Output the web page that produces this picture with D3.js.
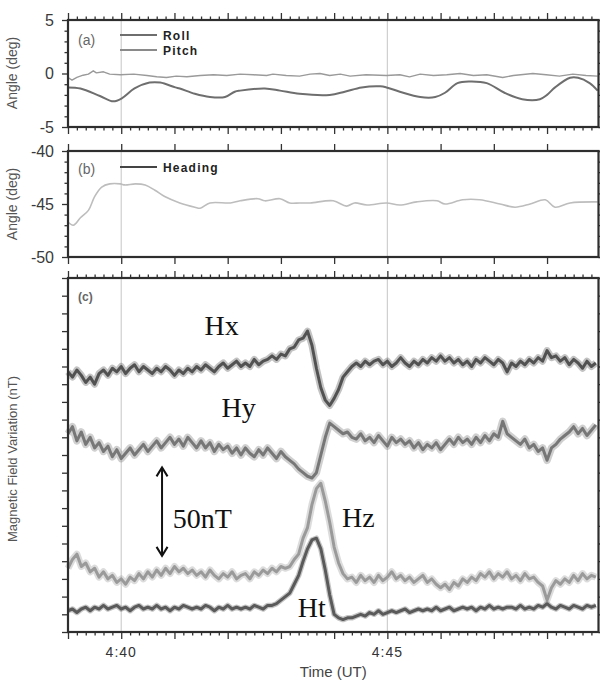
<!DOCTYPE html>
<html>
    <head>
        <meta charset="utf-8">
        <title>Attitude and magnetic field variation</title>
        <script type="text/javascript" src="https://cdnjs.cloudflare.com/ajax/libs/d3/7.8.5/d3.min.js"></script>
        <style>
            body { margin: 0; background: #ffffff; }
            svg { display: block; }
        </style>
    </head>
    <body>
        <script type="text/javascript">

            // ---- Data (times in seconds after 4:39:00 UT) ----

            // Panel (a): roll and pitch in degrees
            var rollTimes = [0, 14, 36, 51, 61, 75, 92, 104, 121, 126, 143, 160, 177, 188, 194, 222, 239, 261, 295, 312,
                             331, 352, 359, 374, 397, 414, 425, 439, 453, 472, 492, 512, 532, 540, 549, 566, 575, 588, 597];
            var rollValues = [-1.3, -1.4, -2.1, -2.6, -2.3, -1.4, -0.85, -0.85, -1.3, -1.4, -1.9, -2.2, -2.2, -1.7, -1.6, -1.4, -1.6, -1.9, -2.0, -1.7,
                              -1.3, -1.2, -1.3, -1.7, -2.2, -2.2, -1.8, -0.9, -0.75, -0.9, -1.8, -2.4, -2.4, -2.0, -1.3, -0.4, -0.4, -0.9, -1.6];

            var pitchTimes = [0, 4.5, 10, 17, 23, 28.5, 32, 40, 47, 59, 74, 89, 100, 111, 122, 134, 149, 164, 179, 194,
                              209, 224, 231, 246, 261, 273, 284, 295, 307, 318, 336, 359, 374, 385, 397, 412, 427, 442, 457, 472,
                              490, 502, 524, 539, 554, 569, 584, 597];
            var pitchValues = [-0.37, -0.62, -0.37, -0.16, -0.06, 0.25, 0.06, 0.16, -0.06, -0.12,
                               -0.06, -0.19, -0.31, -0.37, -0.25, -0.31, -0.19, -0.12, -0.19, -0.06,
                               -0.12, -0.19, -0.06, -0.19, -0.25, -0.06, 0, -0.19, -0.06, -0.25,
                               -0.12, -0.19, -0.12, -0.31, -0.06, -0.19, -0.12, 0, -0.19, -0.12,
                               -0.37, -0.19, 0, -0.12, -0.25, -0.06, -0.19, -0.25];

            // Panel (b): heading in degrees
            var headingTimes = [0, 6, 14, 23, 30, 38, 47, 59, 64, 76, 87, 98, 109, 126, 143, 149, 160, 183, 194, 214,
                                222, 239, 250, 261, 273, 299, 314, 323, 337, 359, 374, 393, 416, 425, 445, 464, 487, 504, 521, 538,
                                549, 566, 597];
            var headingValues = [-46.7, -47.0, -46.3, -45.6, -44.3, -43.4, -43.1, -43.1, -43.2, -43.1, -43.2, -43.7, -44.3, -44.9, -45.3, -45.4, -44.9, -44.9, -44.7, -44.5,
                                 -44.7, -44.5, -44.9, -44.9, -44.9, -44.7, -45.2, -44.9, -45.1, -44.9, -45.1, -44.8, -44.7, -45.0, -44.6, -44.6, -45.0, -45.3, -45.0, -44.6,
                                 -45.3, -44.9, -44.8];

            // Panel (c): magnetic field components (nT, offset), one sample every 5 s
            var magStep = 5;
            var hxValues = [147, 144, 148, 145, 141, 144, 140, 146, 148, 145,
                            149, 147, 150, 146, 149, 151, 147, 150, 148, 146,
                            149, 147, 150, 148, 145, 148, 146, 149, 147, 150,
                            148, 151, 149, 147, 150, 152, 149, 151, 153, 150,
                            152, 150, 154, 151, 153, 154, 156, 154, 157, 156,
                            160, 161, 165, 166, 170, 162, 149, 138, 131, 128,
                            132, 137, 144, 147, 150, 152, 150, 153, 151, 153,
                            154, 151, 153, 150, 152, 155, 152, 150, 153, 151,
                            154, 152, 155, 153, 156, 153, 155, 152, 154, 151,
                            153, 150, 154, 152, 155, 153, 151, 154, 152, 147,
                            152, 150, 153, 151, 154, 152, 155, 153, 159, 155,
                            156, 153, 155, 151, 154, 152, 149, 153, 150, 152];
            var hyValues = [112, 116, 108, 113, 106, 110, 104, 107, 102, 105,
                            99, 103, 98, 101, 104, 100, 103, 106, 102, 105,
                            108, 104, 107, 110, 106, 109, 105, 110, 107, 104,
                            108, 104, 107, 102, 106, 103, 105, 101, 104, 100,
                            104, 101, 99, 103, 100, 104, 101, 98, 102, 99,
                            97, 95, 92, 90, 88, 87, 90, 100, 110, 118,
                            116, 114, 112, 113, 110, 109, 112, 108, 110, 107,
                            111, 108, 105, 110, 107, 109, 106, 108, 104, 107,
                            103, 106, 104, 107, 103, 106, 109, 106, 110, 107,
                            109, 106, 110, 107, 111, 108, 112, 110, 119, 112,
                            110, 108, 106, 109, 104, 106, 102, 104, 97, 104,
                            106, 109, 111, 113, 116, 112, 115, 111, 114, 117];
            var hzValues = [36, 41, 44, 37, 39, 34, 36, 31, 34, 30,
                            32, 28, 30, 27, 31, 29, 33, 30, 34, 31,
                            35, 32, 36, 33, 37, 34, 36, 33, 35, 32,
                            34, 31, 35, 32, 30, 33, 31, 34, 30, 32,
                            33, 30, 34, 32, 35, 33, 36, 34, 37, 36,
                            37, 41, 44, 53, 59, 72, 81, 84, 74, 62,
                            48, 39, 33, 30, 31, 28, 32, 29, 31, 28,
                            32, 29, 31, 34, 30, 32, 29, 31, 28, 30,
                            32, 28, 30, 27, 25, 27, 24, 28, 26, 30,
                            28, 31, 29, 33, 31, 34, 30, 33, 31, 34,
                            30, 32, 29, 33, 30, 31, 28, 26, 18, 25,
                            29, 27, 30, 28, 32, 29, 33, 30, 32, 31];
            var htValues = [12, 13, 11, 13, 14, 12, 14, 13, 15, 13,
                            14, 15, 13, 14, 12, 14, 15, 13, 14, 13,
                            15, 13, 14, 12, 14, 13, 15, 14, 13, 14,
                            13, 15, 14, 12, 14, 13, 15, 13, 14, 13,
                            14, 13, 15, 14, 13, 15, 15, 16, 18, 20,
                            22, 27, 32, 40, 47, 52, 53, 47, 35, 21,
                            10, 8, 7, 8, 8, 9, 10, 9, 11, 10,
                            12, 10, 11, 12, 11, 12, 13, 11, 12, 13,
                            12, 13, 12, 14, 12, 13, 14, 12, 13, 14,
                            13, 14, 12, 14, 13, 15, 13, 14, 13, 14,
                            14, 13, 15, 13, 14, 13, 15, 14, 16, 14,
                            13, 15, 14, 13, 15, 14, 13, 15, 14, 15];

            // Tick labels
            var xTickSeconds = [60, 360];
            var xTickLabels = ["4:40", "4:45"];
            var rollTicks = [5, 0, -5];
            var headingTicks = [-40, -45, -50];

            // Annotations in panel (c): text, time (s), value (nT)
            var magLabels = [["Hx", 154, 168], ["Hy", 173, 121.5], ["Hz", 309, 59.5], ["Ht", 259, 8.5], ["50nT", 118, 59]];
            var arrowTime = 106;
            var arrowFrom = 43;
            var arrowTo = 93;

            // ---- Layout ----
            var svg_width = 600;
            var svg_height = 680;
            var plot_left = 68;
            var plot_right = 598.5;
            var fontSans = "'Liberation Sans', Arial, sans-serif";
            var fontSerif = "'Liberation Serif', 'Times New Roman', serif";

            var svg = d3.select("body")
                        .append("svg")
                        .attr("width", svg_width)
                        .attr("height", svg_height);

            var x = d3.scaleLinear().domain([0, 598]).range([plot_left, plot_right]);

            var yA = d3.scaleLinear().domain([-5, 5]).range([127, 20]);
            var yB = d3.scaleLinear().domain([-50, -40]).range([257, 151]);
            var yC = d3.scaleLinear().domain([0, 200]).range([632, 278]);

            var majorSeconds = d3.range(0, 598, 60);
            var minorSeconds = d3.range(0, 598, 10).filter(function(s) { return s % 60 != 0; });

            // Vertical grid lines at 4:40 and 4:45 in every panel
            [yA, yB, yC].forEach(function(y) {
                svg.append("g").selectAll("line")
                   .data(xTickSeconds)
                   .enter()
                   .append("line")
                   .attr("x1", function(d) { return x(d); })
                   .attr("x2", function(d) { return x(d); })
                   .attr("y1", y.range()[0])
                   .attr("y2", y.range()[1])
                   .attr("stroke", "#cfcfcf")
                   .attr("stroke-width", 1.2);
            });

            // Draw a series as a path, with an optional soft halo for noisy traces
            function drawLine(times, values, y, color, width, curve, halo) {
                var pts = times.map(function(t, i) { return [t, values[i]]; });
                var line = d3.line()
                             .x(function(d) { return x(d[0]); })
                             .y(function(d) { return y(d[1]); })
                             .curve(curve || d3.curveLinear);
                if (halo) {
                    svg.append("path")
                       .datum(pts)
                       .attr("d", line)
                       .attr("fill", "none")
                       .attr("stroke", color)
                       .attr("stroke-opacity", 0.35)
                       .attr("stroke-width", halo)
                       .attr("stroke-linejoin", "round");
                }
                svg.append("path")
                   .datum(pts)
                   .attr("d", line)
                   .attr("fill", "none")
                   .attr("stroke", color)
                   .attr("stroke-width", width)
                   .attr("stroke-linejoin", "round");
            }

            var magTimes = hxValues.map(function(d, i) { return i * magStep; });
            var smooth = d3.curveCatmullRom.alpha(0.5);

            drawLine(pitchTimes, pitchValues, yA, "#9a9a9a", 1.4);
            drawLine(rollTimes, rollValues, yA, "#6e6e6e", 2, smooth);
            drawLine(headingTimes, headingValues, yB, "#bdbdbd", 1.6, smooth);

            drawLine(magTimes, hzValues, yC, "#9a9a9a", 3, null, 7);
            drawLine(magTimes, htValues, yC, "#5a5a5a", 3, null, 5.5);
            drawLine(magTimes, hyValues, yC, "#777777", 3, null, 7.5);
            drawLine(magTimes, hxValues, yC, "#525252", 3, null, 7);

            // Axis helper
            function addAxis(axis, tx, ty) {
                var a = svg.append("g")
                           .attr("transform", "translate(" + tx + "," + ty + ")")
                           .call(axis);
                a.select(".domain").remove();
                a.selectAll("line").attr("stroke", "#333").attr("stroke-width", 1.3);
                a.selectAll("text")
                 .attr("font-family", fontSans)
                 .attr("font-size", 16)
                 .attr("fill", "#3a3a3a");
                return a;
            }

            // Frames and ticks for each panel
            function drawFrame(y, majorY, minorY, labels, topMinor, bottomMinor) {
                var top = y.range()[1];
                var bottom = y.range()[0];

                addAxis(d3.axisTop(x).tickValues(majorSeconds).tickSize(7).tickFormat(""), 0, top);
                addAxis(d3.axisBottom(x).tickValues(majorSeconds).tickSize(7).tickFormat(""), 0, bottom);
                if (topMinor) {
                    addAxis(d3.axisTop(x).tickValues(minorSeconds).tickSize(3.5).tickFormat(""), 0, top);
                }
                if (bottomMinor) {
                    addAxis(d3.axisBottom(x).tickValues(minorSeconds).tickSize(3.5).tickFormat(""), 0, bottom);
                }

                addAxis(d3.axisLeft(y).tickValues(majorY).tickSize(6).tickPadding(8)
                          .tickFormat(labels ? function(d) { return String(d); } : ""), plot_left, 0);
                addAxis(d3.axisLeft(y).tickValues(minorY).tickSize(3.5).tickFormat(""), plot_left, 0);
                addAxis(d3.axisRight(y).tickValues(majorY.concat(minorY)).tickSize(4).tickFormat(""), plot_right, 0);

                svg.append("rect")
                   .attr("x", plot_left)
                   .attr("y", top)
                   .attr("width", plot_right - plot_left)
                   .attr("height", bottom - top)
                   .attr("fill", "none")
                   .attr("stroke", "#2e2e2e")
                   .attr("stroke-width", 2.2);
            }

            drawFrame(yA, rollTicks, [4, 3, 2, 1, -1, -2, -3, -4], true, true, true);
            drawFrame(yB, headingTicks, [-41, -42, -43, -44, -46, -47, -48, -49], true, false, false);
            drawFrame(yC, d3.range(0, 201, 10), [], false, true, true);

            // x tick labels under panel (c)
            svg.append("g").selectAll("text")
               .data(xTickSeconds)
               .enter()
               .append("text")
               .attr("x", function(d) { return x(d); })
               .attr("y", 657)
               .attr("text-anchor", "middle")
               .attr("font-family", fontSans)
               .attr("font-size", 14)
               .attr("letter-spacing", 1)
               .attr("fill", "#333")
               .text(function(d, i) { return xTickLabels[i]; });

            svg.append("text")
               .attr("x", (plot_left + plot_right) / 2)
               .attr("y", 677)
               .attr("text-anchor", "middle")
               .attr("font-family", fontSans)
               .attr("font-size", 15)
               .attr("fill", "#444")
               .text("Time (UT)");

            // y axis titles
            function yTitle(text, cy, size) {
                svg.append("text")
                   .attr("transform", "translate(17," + cy + ") rotate(-90)")
                   .attr("text-anchor", "middle")
                   .attr("font-family", fontSans)
                   .attr("font-size", size)
                   .attr("fill", "#555")
                   .text(text);
            }
            yTitle("Angle (deg)", 73, 14);
            yTitle("Angle (deg)", 204, 14);
            yTitle("Magnetic Field Variation (nT)", 459, 13);

            // Panel letters
            [["(a)", 45], ["(b)", 174], ["(c)", 301]].forEach(function(p, i) {
                svg.append("text")
                   .attr("x", 78)
                   .attr("y", p[1])
                   .attr("font-family", fontSans)
                   .attr("font-size", i == 2 ? 12 : 14)
                   .attr("font-weight", i == 2 ? "bold" : "normal")
                   .attr("fill", "#666")
                   .text(p[0]);
            });

            // Legends
            function legendItem(text, ly, color) {
                svg.append("line")
                   .attr("x1", 120).attr("x2", 157)
                   .attr("y1", ly).attr("y2", ly)
                   .attr("stroke", color)
                   .attr("stroke-width", 2);
                svg.append("text")
                   .attr("x", 163)
                   .attr("y", ly + 4.5)
                   .attr("font-family", fontSans)
                   .attr("font-size", 12)
                   .attr("font-weight", "bold")
                   .attr("letter-spacing", 1.2)
                   .attr("fill", "#222")
                   .text(text);
            }
            legendItem("Roll", 35, "#6e6e6e");
            legendItem("Pitch", 50, "#8a8a8a");
            legendItem("Heading", 167, "#444");

            // Labels in panel (c)
            svg.append("g").selectAll("text")
               .data(magLabels)
               .enter()
               .append("text")
               .attr("x", function(d) { return x(d[1]); })
               .attr("y", function(d) { return yC(d[2]); })
               .attr("font-family", fontSerif)
               .attr("font-size", 28)
               .attr("fill", "#111")
               .text(function(d) { return d[0]; });

            // 50 nT scale arrow
            var ax = x(arrowTime);
            var a1 = yC(arrowTo);
            var a2 = yC(arrowFrom);
            svg.append("line")
               .attr("x1", ax).attr("x2", ax)
               .attr("y1", a1).attr("y2", a2)
               .attr("stroke", "#111")
               .attr("stroke-width", 2);
            svg.append("path")
               .attr("d", "M" + (ax - 5.5) + "," + (a1 + 9) + "L" + ax + "," + a1 + "L" + (ax + 5.5) + "," + (a1 + 9)
                        + "M" + (ax - 5.5) + "," + (a2 - 9) + "L" + ax + "," + a2 + "L" + (ax + 5.5) + "," + (a2 - 9))
               .attr("fill", "none")
               .attr("stroke", "#111")
               .attr("stroke-width", 2);

        </script>
    </body>
</html>
